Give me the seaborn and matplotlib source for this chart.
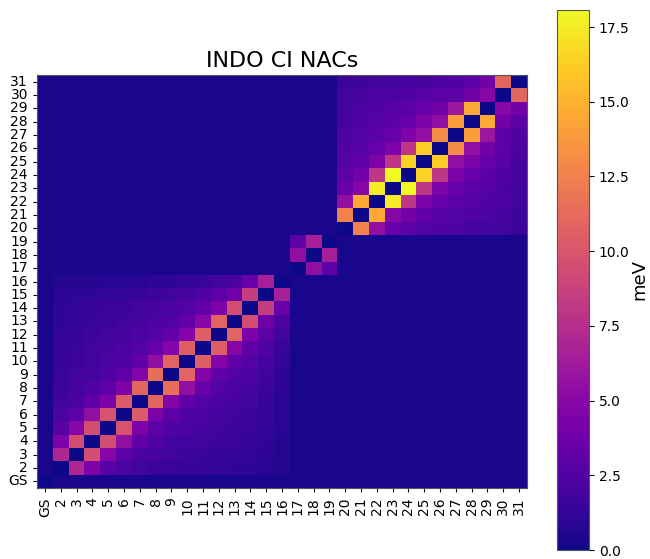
import numpy as np
import pandas as pd
import matplotlib
matplotlib.use("Agg")
import matplotlib.pyplot as plt
import seaborn as sns

# ---- labels ----
states = ["GS"] + [str(i) for i in range(2, 32)]

# ---- coupling values (meV) ----
# block A: states 2..16, values along each off-diagonal (k = 1, 2, ...)
blockA_diags = [
    [7.0, 9.5, 9.5, 9.8, 10.3, 11.0, 11.5, 10.8, 10.5, 10.5, 10.8, 9.5, 8.5, 6.5],
    [4.5, 5.0, 5.5, 4.5, 4.5, 4.8, 5.5, 4.8, 4.8, 5.0, 4.5, 3.8, 3.5],
    [2.8, 3.0, 3.2, 3.0, 3.0, 3.2, 3.5, 3.2, 3.2, 3.2, 3.0, 2.3],
    [2.2, 2.3, 2.4, 2.4, 2.4, 2.6, 2.6, 2.6, 2.6, 2.5, 1.8],
    [1.8, 2.0, 2.0, 2.2, 2.2, 2.2, 2.2, 2.2, 2.0, 1.5],
    [1.6, 1.8, 1.9, 2.0, 2.0, 2.0, 2.0, 1.8, 1.3],
    [1.5, 1.6, 1.8, 1.8, 1.8, 1.8, 1.6, 1.1],
    [1.4, 1.5, 1.6, 1.6, 1.6, 1.4, 1.0],
    [1.3, 1.4, 1.5, 1.5, 1.3, 0.9],
    [1.2, 1.3, 1.4, 1.2, 0.8],
    [1.1, 1.2, 1.1, 0.8],
    [1.0, 1.0, 0.7],
    [0.9, 0.7],
    [0.7],
]
# block B: states 17..19
blockB_diags = [
    [5.5, 6.5],
    [3.0],
]
# block C: states 20..31
blockC_diags = [
    [12.5, 14.5, 17.5, 18.07, 16.5, 16.2, 13.0, 14.0, 14.5, 5.0, 11.0],
    [5.5, 5.0, 8.0, 8.0, 8.0, 5.5, 5.5, 6.0, 4.0, 4.0],
    [3.5, 4.0, 4.5, 4.5, 4.5, 4.5, 4.0, 3.0, 3.0],
    [3.0, 3.2, 3.5, 3.5, 3.5, 3.5, 3.0, 2.5],
    [2.6, 2.8, 3.0, 3.0, 3.0, 2.8, 2.3],
    [2.4, 2.6, 2.7, 2.7, 2.5, 2.1],
    [2.2, 2.4, 2.5, 2.3, 2.0],
    [2.0, 2.2, 2.2, 1.9],
    [1.9, 2.0, 1.8],
    [1.8, 1.7],
    [1.6],
]
block_starts = {"A": 1, "B": 16, "C": 19}
background = 0.3
gs_coupling = 0.35

n = len(states)
M = np.full((n, n), background)
M[0, :] = gs_coupling
M[:, 0] = gs_coupling
for key, diags in (("A", blockA_diags), ("B", blockB_diags), ("C", blockC_diags)):
    s = block_starts[key]
    for k, vals in enumerate(diags, start=1):
        for i, v in enumerate(vals):
            M[s + i, s + i + k] = v
            M[s + i + k, s + i] = v
np.fill_diagonal(M, 0.0)

df = pd.DataFrame(M, index=states, columns=states)
df = df.iloc[::-1]  # GS at the bottom

fig = plt.figure(figsize=(6.5, 5.59), dpi=100)
ax = fig.add_axes([37 / 650, (559 - 488) / 559, 490 / 650, 413 / 559])
cax = fig.add_axes([557 / 650, (559 - 550) / 559, 32 / 650, 540 / 559])

sns.heatmap(df, ax=ax, cbar_ax=cax, cmap="plasma", vmin=0, vmax=18.07,
            xticklabels=True, yticklabels=True, square=False)

ax.set_title("INDO CI NACs", fontsize=16)
ax.tick_params(axis="both", labelsize=10, length=3)
plt.setp(ax.get_xticklabels(), rotation=90)
plt.setp(ax.get_yticklabels(), rotation=0)
for sp in ax.spines.values():
    sp.set_visible(True)
    sp.set_linewidth(0.8)
    sp.set_color("#555555")

cax.set_ylabel("meV", fontsize=13, labelpad=1)
cax.tick_params(labelsize=10)
cax.set_yticks([0, 2.5, 5, 7.5, 10, 12.5, 15, 17.5])
cb = ax.collections[0].colorbar
cb.outline.set_visible(True)
cb.outline.set_linewidth(0.8)
cb.outline.set_edgecolor("#555555")

fig.savefig("out.png", dpi=100)
